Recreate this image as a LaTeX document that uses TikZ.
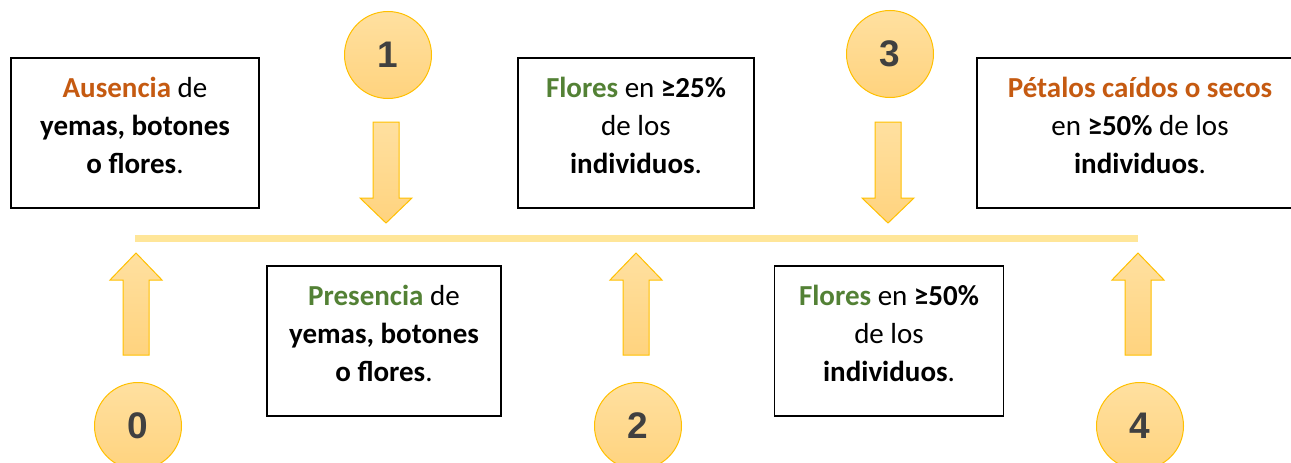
\documentclass[tikz,border=0pt]{standalone}
\usepackage{fontspec}
\setmainfont{Carlito}
\newfontfamily\digitfont{Liberation Sans}
\definecolor{orng}{HTML}{C55A11}
\definecolor{grn}{HTML}{538135}
\definecolor{gold}{HTML}{FFC000}
\definecolor{lite}{HTML}{FFE0A0}
\definecolor{deep}{HTML}{FFD37E}
\definecolor{tline}{HTML}{FFE699}
\definecolor{digit}{HTML}{404040}
\newcommand\tstr{\rule{0pt}{26pt}}
\newcommand\bstr{\rule[-22pt]{0pt}{22pt}}
\begin{document}
\begin{tikzpicture}[x=1pt,y=-1pt,
  infobox/.style={draw=black, line width=1.6pt, fill=white, minimum width=#1,
    minimum height=150pt, align=center, inner sep=0pt,
    font=\fontsize{29}{38}\selectfont},
  stage/.style={circle, draw=gold, line width=1pt, top color=lite, bottom color=deep,
    minimum size=87pt, inner sep=0pt,
    font=\digitfont\bfseries\fontsize{37}{37}\selectfont, text=digit},
  arrowfill/.style={draw=gold, line width=1pt, top color=lite, bottom color=deep},
  uparr/.pic={\path[arrowfill] (-13,0) -- (-13,-75) -- (-26,-75) -- (0,-102)
     -- (26,-75) -- (13,-75) -- (13,0) -- cycle;},
  downarr/.pic={\path[arrowfill] (-13,0) -- (-13,76) -- (-26,76) -- (0,101)
     -- (26,76) -- (13,76) -- (13,0) -- cycle;}]
\useasboundingbox (0,0) rectangle (1291,463);
\clip (0,0) rectangle (1291,463);

% timeline
\coordinate (ls) at (135,238);
\coordinate (le) at (1138,238);
\draw[line width=7pt, tline] (ls) -- (le);

% boxes
\node[infobox=248pt] (b0) at (135,133)
  {\tstr{\color{orng}\textbf{Ausencia}} de\\ \textbf{yemas, botones}\\ \bstr\textbf{o flores}.};
\node[infobox=234pt] (b1) at (384,341)
  {\tstr{\color{grn}\textbf{Presencia}} de\\ \textbf{yemas, botones}\\ \bstr\textbf{o flores}.};
\node[infobox=236pt] (b2) at (636,133)
  {\tstr{\color{grn}\textbf{Flores}} en \textbf{≥25\%}\\ de los\\ \bstr\textbf{individuos}.};
\node[infobox=229pt] (b3) at (889,341)
  {\tstr{\color{grn}\textbf{Flores}} en \textbf{≥50\%}\\ de los\\ \bstr\textbf{individuos}.};
\node[infobox=326pt] (b4) at (1140,133)
  {\tstr{\color{orng}\textbf{Pétalos caídos o secos}}\\ en \textbf{≥50\%} de los\\ \bstr\textbf{individuos}.};

% stage circles
\node[stage] (c1) at (388,55) {1};
\node[stage] (c3) at (890,54) {3};
\node[stage] (c0) at (138,426) {0};
\node[stage] (c2) at (638,426) {2};
\node[stage] (c4) at (1140,426) {4};

% arrows
\pic (a1) at (386,122) {downarr};
\pic (a3) at (888,122) {downarr};
\pic (a0) at (136,355) {uparr};
\pic (a2) at (636,355) {uparr};
\pic (a4) at (1138,355) {uparr};
\end{tikzpicture}
\end{document}
